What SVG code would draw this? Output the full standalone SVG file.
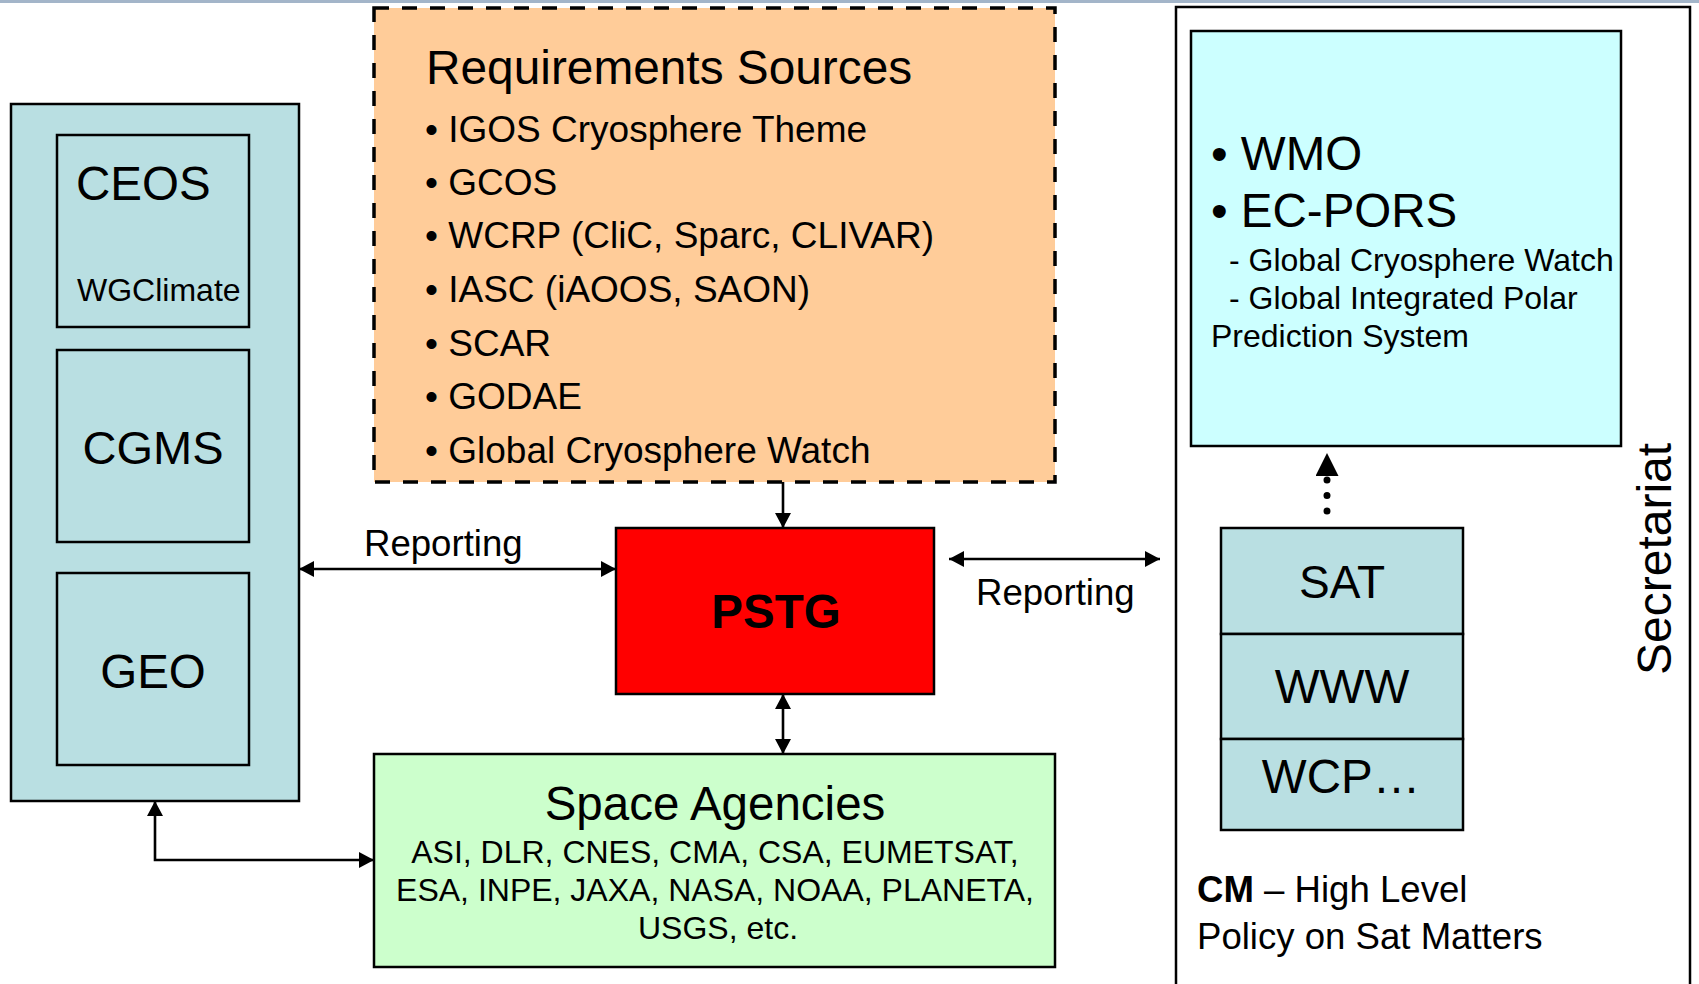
<svg xmlns="http://www.w3.org/2000/svg" width="1699" height="984" viewBox="0 0 1699 984">
<style>
text{font-family:"Liberation Sans",Arial,sans-serif;fill:#000}
.box{stroke:#000;stroke-width:2.5}
.blue{fill:#B9DFE2}
.conn{fill:none;stroke:#000;stroke-width:2.6}
</style>
<defs>
<marker id="ah" viewBox="0 0 15 16" refX="15" refY="8" markerWidth="15" markerHeight="16" markerUnits="userSpaceOnUse" orient="auto-start-reverse"><path d="M0,0 L15,8 L0,16 z" fill="#000"/></marker>
<marker id="ahBig" viewBox="0 0 23 23" refX="23" refY="11.5" markerWidth="23" markerHeight="23" markerUnits="userSpaceOnUse" orient="auto"><path d="M0,0 L23,11.5 L0,23 z" fill="#000"/></marker>
</defs>
<rect x="0" y="0" width="1699" height="984" fill="#fff"/>
<rect x="0" y="0" width="1699" height="3" fill="#A3B5C9"/>

<g id="secretariat">
<rect class="box" x="1176" y="7" width="514" height="1010" fill="#fff"/>
<text font-size="48" transform="translate(1671,675) rotate(-90)">Secretariat</text>
<text font-size="36.6" x="1197" y="902"><tspan font-weight="bold">CM</tspan> – High Level</text>
<text font-size="36.6" x="1197" y="949">Policy on Sat Matters</text>
</g>

<g id="left-group">
<rect class="box blue" x="11" y="104" width="288" height="697"/>
</g>
<g id="ceos">
<rect class="box blue" x="57" y="135" width="192" height="192"/>
<text font-size="47.5" x="76" y="200">CEOS</text>
<text font-size="32" x="77" y="301">WGClimate</text>
</g>
<g id="cgms">
<rect class="box blue" x="57" y="350" width="192" height="192"/>
<text font-size="47" x="153" y="464" text-anchor="middle">CGMS</text>
</g>
<g id="geo">
<rect class="box blue" x="57" y="573" width="192" height="192"/>
<text font-size="47.5" x="153" y="688" text-anchor="middle">GEO</text>
</g>

<g id="requirements">
<rect x="374" y="8" width="681" height="474" fill="#FFCC99" stroke="#000" stroke-width="3.5" stroke-dasharray="15 13"/>
<text font-size="47.8" x="426" y="84">Requirements Sources</text>
<g font-size="37">
<text x="425" y="142">• IGOS Cryosphere Theme</text>
<text x="425" y="195">• GCOS</text>
<text x="425" y="248">• WCRP (CliC, Sparc, CLIVAR)</text>
<text x="425" y="302">• IASC (iAOOS, SAON)</text>
<text x="425" y="356">• SCAR</text>
<text x="425" y="409">• GODAE</text>
<text x="425" y="463">• Global Cryosphere Watch</text>
</g>
</g>

<g id="pstg">
<rect class="box" x="616" y="528" width="318" height="166" fill="#FF0000"/>
<text font-size="47.5" font-weight="bold" x="776" y="628" text-anchor="middle">PSTG</text>
</g>

<g id="space-agencies">
<rect class="box" x="374" y="754" width="681" height="213" fill="#CCFFCC"/>
<text font-size="47.5" x="715" y="820" text-anchor="middle">Space Agencies</text>
<text font-size="32" x="715" y="863" text-anchor="middle">ASI, DLR, CNES, CMA, CSA, EUMETSAT,</text>
<text font-size="32" x="715" y="901" text-anchor="middle">ESA, INPE, JAXA, NASA, NOAA, PLANETA,</text>
<text font-size="32" x="718" y="939" text-anchor="middle">USGS, etc.</text>
</g>

<g id="wmo">
<rect class="box" x="1191" y="31" width="430" height="415" fill="#CCFFFF"/>
<text font-size="47.5" x="1211" y="170">• WMO</text>
<text font-size="47.5" x="1211" y="227">• EC-PORS</text>
<text font-size="32" x="1229" y="271">- Global Cryosphere Watch</text>
<text font-size="32" x="1229" y="309">- Global Integrated Polar</text>
<text font-size="32" x="1211" y="347">Prediction System</text>
</g>

<g id="wmo-programmes">
<rect class="box blue" x="1221" y="528" width="242" height="106"/>
<rect class="box blue" x="1221" y="634" width="242" height="105"/>
<rect class="box blue" x="1221" y="739" width="242" height="91"/>
<text font-size="46" x="1342" y="598" text-anchor="middle">SAT</text>
<text font-size="47.5" x="1342" y="703" text-anchor="middle">WWW</text>
<text font-size="47.5" x="1341" y="793" text-anchor="middle">WCP…</text>
</g>

<g id="connectors">
<path class="conn" d="M299,569 H616" marker-start="url(#ah)" marker-end="url(#ah)"/>
<path class="conn" d="M949,559 H1160" marker-start="url(#ah)" marker-end="url(#ah)"/>
<path class="conn" d="M783,482 V528" marker-end="url(#ah)"/>
<path class="conn" d="M783,694 V754" marker-start="url(#ah)" marker-end="url(#ah)"/>
<path class="conn" d="M155,801 V860 H374" marker-start="url(#ah)" marker-end="url(#ah)"/>
<path d="M1327,511 V453" fill="none" stroke="#000" stroke-width="7" stroke-linecap="round" stroke-dasharray="0 15.5" marker-end="url(#ahBig)"/>
<text font-size="36.6" x="364" y="556">Reporting</text>
<text font-size="36.6" x="976" y="605">Reporting</text>
</g>
</svg>
